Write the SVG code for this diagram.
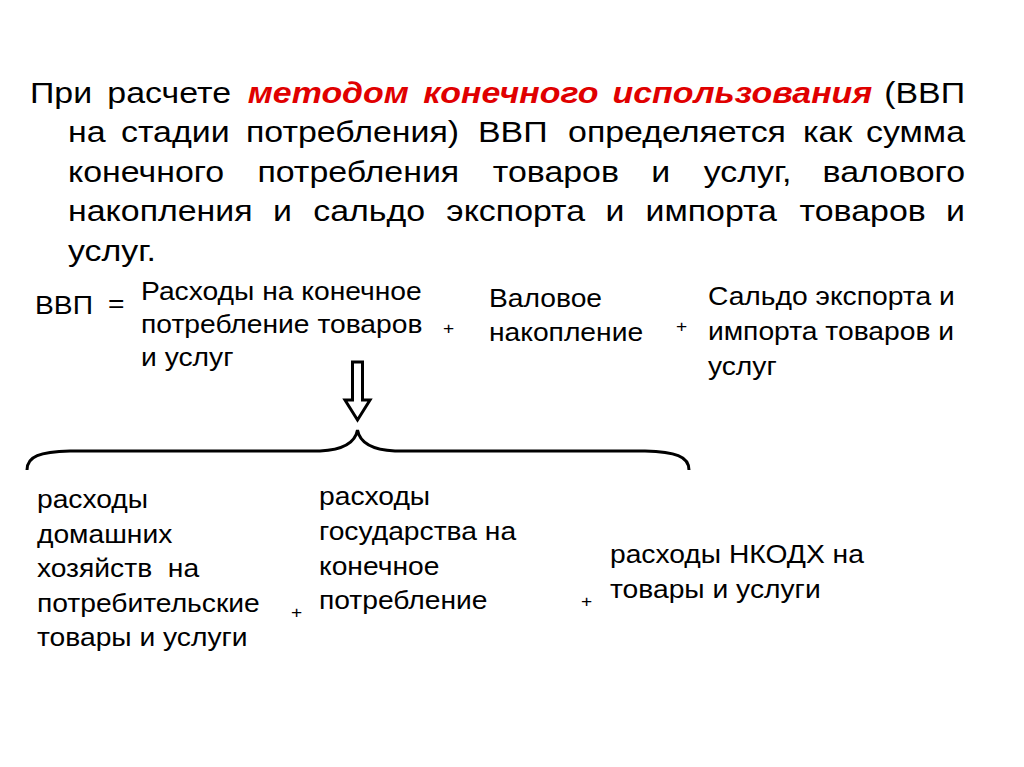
<svg xmlns="http://www.w3.org/2000/svg" width="1024" height="767" viewBox="0 0 1024 767">
<style>
text{font-family:"Liberation Sans",Arial,sans-serif;fill:#000}
.p{font-size:30px}
.red{fill:#e00000;font-weight:bold;font-style:italic}
.f{font-size:25px}
.pl{font-size:17px}
.ln{fill:none;stroke:#000;stroke-width:3}
</style>
<rect width="1024" height="767" fill="#fff"/>
<g transform="scale(1.13,1)">
<g id="intro">
<text class="p" y="103"><tspan x="26.5">При</tspan><tspan x="95">расчете</tspan><tspan x="219.3" class="red">методом</tspan><tspan x="374.5" class="red">конечного</tspan><tspan x="542.1" class="red">использования</tspan><tspan x="854" text-anchor="end">(ВВП</tspan></text>
<text class="p" y="142.5"><tspan x="60.2">на</tspan><tspan x="107.1">стадии</tspan><tspan x="217.7">потребления)</tspan><tspan x="423">ВВП</tspan><tspan x="502.7">определяется</tspan><tspan x="710.6">как</tspan><tspan x="854" text-anchor="end">сумма</tspan></text>
<text class="p" y="182"><tspan x="60.2">конечного</tspan><tspan x="227.8">потребления</tspan><tspan x="436.1">товаров</tspan><tspan x="576.3">и</tspan><tspan x="622.7">услуг,</tspan><tspan x="854" text-anchor="end">валового</tspan></text>
<text class="p" y="221.5"><tspan x="60.2">накопления</tspan><tspan x="241.7">и</tspan><tspan x="277.2">сальдо</tspan><tspan x="395">экспорта</tspan><tspan x="535.8">и</tspan><tspan x="571.2">импорта</tspan><tspan x="707.6">товаров</tspan><tspan x="854" text-anchor="end">и</tspan></text>
<text class="p" x="60.2" y="261">услуг.</text>
</g>
<g id="gdp">
<text class="f" x="31" y="314">ВВП</text>
<text class="f" x="95.6" y="312">=</text>
</g>
<g id="consumption">
<text class="f" x="124.8" y="300">Расходы на конечное</text>
<text class="f" x="124.8" y="333">потребление товаров</text>
<text class="f" x="124.8" y="366">и услуг</text>
</g>
<g id="plus1"><text class="pl" x="392" y="334">+</text></g>
<g id="accumulation">
<text class="f" x="432.7" y="307">Валовое</text>
<text class="f" x="432.7" y="341">накопление</text>
</g>
<g id="plus2"><text class="pl" x="598.2" y="332">+</text></g>
<g id="netexport">
<text class="f" x="626.5" y="305">Сальдо экспорта и</text>
<text class="f" x="626.5" y="340">импорта товаров и</text>
<text class="f" x="626.5" y="375">услуг</text>
</g>
<g id="households">
<text class="f" x="32.7" y="508">расходы</text>
<text class="f" x="32.7" y="543">домашних</text>
<text class="f" x="32.7" y="577" xml:space="preserve">хозяйств  на</text>
<text class="f" x="32.7" y="612">потребительские</text>
<text class="f" x="32.7" y="646">товары и услуги</text>
</g>
<g id="plus3"><text class="pl" x="257.5" y="618">+</text></g>
<g id="government">
<text class="f" x="282.3" y="505">расходы</text>
<text class="f" x="282.3" y="540">государства на</text>
<text class="f" x="282.3" y="575">конечное</text>
<text class="f" x="282.3" y="609">потребление</text>
</g>
<g id="plus4"><text class="pl" x="514.2" y="607">+</text></g>
<g id="npish">
<text class="f" x="539.8" y="563">расходы НКОДХ на</text>
<text class="f" x="539.8" y="598">товары и услуги</text>
</g>
</g>
<g id="connectors">
<path class="ln" d="M352.5 362 V400 H345 L357.5 420 L370 400 H362.5 V362 Z"/>
<path class="ln" d="M27 470 C27 456 40 452 70 451 H320 C340 450 355 444 357.5 430 C360 444 375 450 395 451 H645 C675 452 689 456 689 470"/>
</g>
</svg>
